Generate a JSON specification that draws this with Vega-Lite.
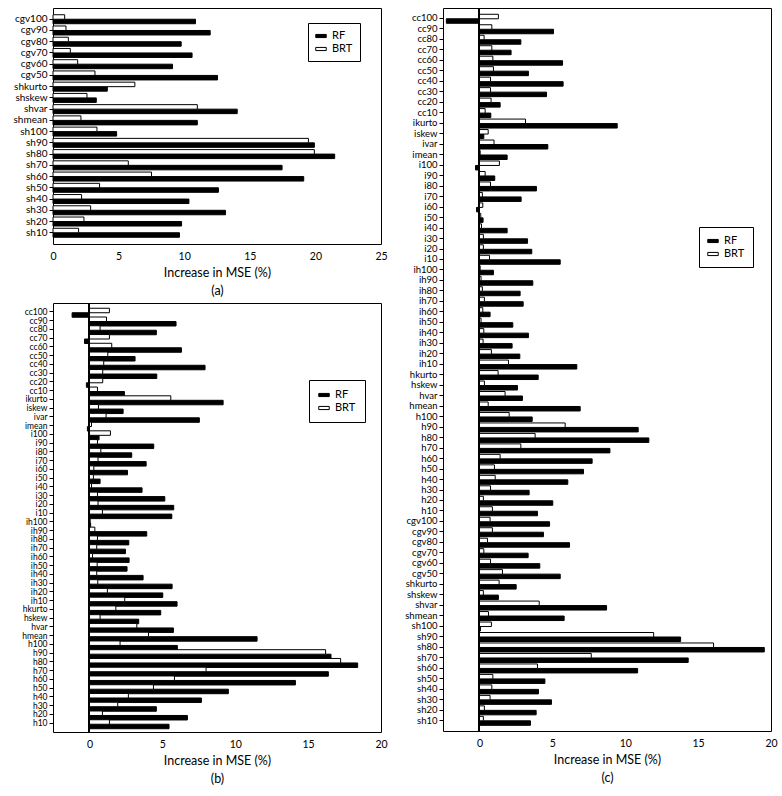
{
  "$schema": "https://vega.github.io/schema/vega-lite/v6.json",
  "padding": {"left": 12, "top": 7, "right": 0, "bottom": 0},
  "background": "white",
  "config": {
    "font": "Lato",
    "view": {"stroke": "black", "strokeWidth": 1},
    "axis": {"labelFont": "Lato", "titleFont": "Lato", "labelColor": "black", "titleColor": "black", "tickColor": "black", "domainColor": "black", "grid": false, "titleFontWeight": "normal"},
    "axisY": {"title": null, "labelFontSize": 10, "tickSize": 4, "labelPadding": 2, "domain": false},
    "axisX": {"labelFontSize": 10.5, "titleFontSize": 12.5, "tickSize": 0, "labelPadding": 7, "titlePadding": 5, "titleLineHeight": 18, "domain": false, "labelFlush": false},
    "legend": {"title": null, "orient": "none", "symbolType": "M-1,-0.3H1V0.3H-1Z", "symbolSize": 110, "symbolStrokeColor": "black", "symbolStrokeWidth": 1, "strokeColor": "black", "fillColor": "white", "padding": 7, "labelFontSize": 11, "labelFont": "Lato", "labelColor": "black", "rowPadding": 2, "labelOffset": 5}
  },
  "datasets": {
    "a": [
      {"v":"cgv100","m":"RF","x":10.86},{"v":"cgv100","m":"BRT","x":0.89},
      {"v":"cgv90","m":"RF","x":11.98},{"v":"cgv90","m":"BRT","x":0.99},
      {"v":"cgv80","m":"RF","x":9.77},{"v":"cgv80","m":"BRT","x":1.17},
      {"v":"cgv70","m":"RF","x":10.6},{"v":"cgv70","m":"BRT","x":1.32},
      {"v":"cgv60","m":"RF","x":9.11},{"v":"cgv60","m":"BRT","x":1.88},
      {"v":"cgv50","m":"RF","x":12.54},{"v":"cgv50","m":"BRT","x":3.2},
      {"v":"shkurto","m":"RF","x":4.14},{"v":"shkurto","m":"BRT","x":6.24},
      {"v":"shskew","m":"RF","x":3.3},{"v":"shskew","m":"BRT","x":2.59},
      {"v":"shvar","m":"RF","x":14.04},{"v":"shvar","m":"BRT","x":11.0},
      {"v":"shmean","m":"RF","x":11.0},{"v":"shmean","m":"BRT","x":2.13},
      {"v":"sh100","m":"RF","x":4.85},{"v":"sh100","m":"BRT","x":3.35},
      {"v":"sh90","m":"RF","x":19.92},{"v":"sh90","m":"BRT","x":19.47},
      {"v":"sh80","m":"RF","x":21.47},{"v":"sh80","m":"BRT","x":19.92},
      {"v":"sh70","m":"RF","x":17.46},{"v":"sh70","m":"BRT","x":5.74},
      {"v":"sh60","m":"RF","x":19.11},{"v":"sh60","m":"BRT","x":7.51},
      {"v":"sh50","m":"RF","x":12.61},{"v":"sh50","m":"BRT","x":3.55},
      {"v":"sh40","m":"RF","x":10.36},{"v":"sh40","m":"BRT","x":2.18},
      {"v":"sh30","m":"RF","x":13.15},{"v":"sh30","m":"BRT","x":2.87},
      {"v":"sh20","m":"RF","x":9.8},{"v":"sh20","m":"BRT","x":2.36},
      {"v":"sh10","m":"RF","x":9.64},{"v":"sh10","m":"BRT","x":1.95}
    ],
    "b": [
      {"v":"cc100","m":"RF","x":-1.19},{"v":"cc100","m":"BRT","x":1.37},
      {"v":"cc90","m":"RF","x":5.94},{"v":"cc90","m":"BRT","x":1.17},
      {"v":"cc80","m":"RF","x":4.59},{"v":"cc80","m":"BRT","x":0.73},
      {"v":"cc70","m":"RF","x":-0.34},{"v":"cc70","m":"BRT","x":1.37},
      {"v":"cc60","m":"RF","x":6.31},{"v":"cc60","m":"BRT","x":1.53},
      {"v":"cc50","m":"RF","x":3.13},{"v":"cc50","m":"BRT","x":1.26},
      {"v":"cc40","m":"RF","x":7.93},{"v":"cc40","m":"BRT","x":0.98},
      {"v":"cc30","m":"RF","x":4.62},{"v":"cc30","m":"BRT","x":0.91},
      {"v":"cc20","m":"RF","x":-0.21},{"v":"cc20","m":"BRT","x":0.91},
      {"v":"cc10","m":"RF","x":2.4},{"v":"cc10","m":"BRT","x":0.55},
      {"v":"ikurto","m":"RF","x":9.17},{"v":"ikurto","m":"BRT","x":5.58},
      {"v":"iskew","m":"RF","x":2.31},{"v":"iskew","m":"BRT","x":0.62},
      {"v":"ivar","m":"RF","x":7.54},{"v":"ivar","m":"BRT","x":1.14},
      {"v":"imean","m":"RF","x":-0.14},{"v":"imean","m":"BRT","x":0.14},
      {"v":"i100","m":"RF","x":0.66},{"v":"i100","m":"BRT","x":1.44},
      {"v":"i90","m":"RF","x":4.41},{"v":"i90","m":"BRT","x":0.55},
      {"v":"i80","m":"RF","x":2.9},{"v":"i80","m":"BRT","x":0.78},
      {"v":"i70","m":"RF","x":3.89},{"v":"i70","m":"BRT","x":0.59},
      {"v":"i60","m":"RF","x":2.61},{"v":"i60","m":"BRT","x":0.3},
      {"v":"i50","m":"RF","x":0.73},{"v":"i50","m":"BRT","x":0.27},
      {"v":"i40","m":"RF","x":3.61},{"v":"i40","m":"BRT","x":0.14},
      {"v":"i30","m":"RF","x":5.17},{"v":"i30","m":"BRT","x":0.55},
      {"v":"i20","m":"RF","x":5.78},{"v":"i20","m":"BRT","x":0.59},
      {"v":"i10","m":"RF","x":5.65},{"v":"i10","m":"BRT","x":0.89},
      {"v":"ih100","m":"RF","x":0.08},{"v":"ih100","m":"BRT","x":0.05},
      {"v":"ih90","m":"RF","x":3.93},{"v":"ih90","m":"BRT","x":0.37},
      {"v":"ih80","m":"RF","x":2.7},{"v":"ih80","m":"BRT","x":0.55},
      {"v":"ih70","m":"RF","x":2.47},{"v":"ih70","m":"BRT","x":0.5},
      {"v":"ih60","m":"RF","x":2.72},{"v":"ih60","m":"BRT","x":0.21},
      {"v":"ih50","m":"RF","x":2.58},{"v":"ih50","m":"BRT","x":0.53},
      {"v":"ih40","m":"RF","x":3.68},{"v":"ih40","m":"BRT","x":0.5},
      {"v":"ih30","m":"RF","x":5.67},{"v":"ih30","m":"BRT","x":0.57},
      {"v":"ih20","m":"RF","x":5.03},{"v":"ih20","m":"BRT","x":1.23},
      {"v":"ih10","m":"RF","x":6.01},{"v":"ih10","m":"BRT","x":2.42},
      {"v":"hkurto","m":"RF","x":4.89},{"v":"hkurto","m":"BRT","x":1.81},
      {"v":"hskew","m":"RF","x":3.38},{"v":"hskew","m":"BRT","x":0.73},
      {"v":"hvar","m":"RF","x":5.76},{"v":"hvar","m":"BRT","x":3.25},
      {"v":"hmean","m":"RF","x":11.5},{"v":"hmean","m":"BRT","x":4.05},
      {"v":"h100","m":"RF","x":6.03},{"v":"h100","m":"BRT","x":2.1},
      {"v":"h90","m":"RF","x":16.57},{"v":"h90","m":"BRT","x":16.2},
      {"v":"h80","m":"RF","x":18.4},{"v":"h80","m":"BRT","x":17.23},
      {"v":"h70","m":"RF","x":16.39},{"v":"h70","m":"BRT","x":8.0},
      {"v":"h60","m":"RF","x":14.13},{"v":"h60","m":"BRT","x":5.83},
      {"v":"h50","m":"RF","x":9.53},{"v":"h50","m":"BRT","x":4.39},
      {"v":"h40","m":"RF","x":7.68},{"v":"h40","m":"BRT","x":2.67},
      {"v":"h30","m":"RF","x":4.59},{"v":"h30","m":"BRT","x":1.94},
      {"v":"h20","m":"RF","x":6.72},{"v":"h20","m":"BRT","x":0.89},
      {"v":"h10","m":"RF","x":5.46},{"v":"h10","m":"BRT","x":1.37}
    ],
    "c": [
      {"v":"cc100","m":"RF","x":-2.27},{"v":"cc100","m":"BRT","x":1.3},
      {"v":"cc90","m":"RF","x":5.08},{"v":"cc90","m":"BRT","x":0.85},
      {"v":"cc80","m":"RF","x":2.84},{"v":"cc80","m":"BRT","x":0.32},
      {"v":"cc70","m":"RF","x":2.17},{"v":"cc70","m":"BRT","x":0.85},
      {"v":"cc60","m":"RF","x":5.7},{"v":"cc60","m":"BRT","x":0.92},
      {"v":"cc50","m":"RF","x":3.36},{"v":"cc50","m":"BRT","x":0.96},
      {"v":"cc40","m":"RF","x":5.74},{"v":"cc40","m":"BRT","x":0.76},
      {"v":"cc30","m":"RF","x":4.6},{"v":"cc30","m":"BRT","x":0.76},
      {"v":"cc20","m":"RF","x":1.42},{"v":"cc20","m":"BRT","x":0.8},
      {"v":"cc10","m":"RF","x":0.78},{"v":"cc10","m":"BRT","x":0.39},
      {"v":"ikurto","m":"RF","x":9.45},{"v":"ikurto","m":"BRT","x":3.16},
      {"v":"iskew","m":"RF","x":0.3},{"v":"iskew","m":"BRT","x":0.6},
      {"v":"ivar","m":"RF","x":4.69},{"v":"ivar","m":"BRT","x":1.0},
      {"v":"imean","m":"RF","x":1.9},{"v":"imean","m":"BRT","x":0.05},
      {"v":"i100","m":"RF","x":-0.27},{"v":"i100","m":"BRT","x":1.37},
      {"v":"i90","m":"RF","x":1.05},{"v":"i90","m":"BRT","x":0.39},
      {"v":"i80","m":"RF","x":3.91},{"v":"i80","m":"BRT","x":0.76},
      {"v":"i70","m":"RF","x":2.86},{"v":"i70","m":"BRT","x":0.2},
      {"v":"i60","m":"RF","x":-0.2},{"v":"i60","m":"BRT","x":0.23},
      {"v":"i50","m":"RF","x":0.25},{"v":"i50","m":"BRT","x":0.09},
      {"v":"i40","m":"RF","x":1.9},{"v":"i40","m":"BRT","x":0.14},
      {"v":"i30","m":"RF","x":3.3},{"v":"i30","m":"BRT","x":0.27},
      {"v":"i20","m":"RF","x":3.59},{"v":"i20","m":"BRT","x":0.27},
      {"v":"i10","m":"RF","x":5.54},{"v":"i10","m":"BRT","x":0.69},
      {"v":"ih100","m":"RF","x":0.96},{"v":"ih100","m":"BRT","x":0.05},
      {"v":"ih90","m":"RF","x":3.66},{"v":"ih90","m":"BRT","x":0.11},
      {"v":"ih80","m":"RF","x":2.79},{"v":"ih80","m":"BRT","x":0.2},
      {"v":"ih70","m":"RF","x":3.0},{"v":"ih70","m":"BRT","x":0.34},
      {"v":"ih60","m":"RF","x":0.73},{"v":"ih60","m":"BRT","x":0.23},
      {"v":"ih50","m":"RF","x":2.29},{"v":"ih50","m":"BRT","x":0.11},
      {"v":"ih40","m":"RF","x":3.36},{"v":"ih40","m":"BRT","x":0.3},
      {"v":"ih30","m":"RF","x":2.24},{"v":"ih30","m":"BRT","x":0.25},
      {"v":"ih20","m":"RF","x":2.77},{"v":"ih20","m":"BRT","x":0.82},
      {"v":"ih10","m":"RF","x":6.68},{"v":"ih10","m":"BRT","x":1.99},
      {"v":"hkurto","m":"RF","x":4.03},{"v":"hkurto","m":"BRT","x":1.28},
      {"v":"hskew","m":"RF","x":2.61},{"v":"hskew","m":"BRT","x":0.34},
      {"v":"hvar","m":"RF","x":2.95},{"v":"hvar","m":"BRT","x":1.76},
      {"v":"hmean","m":"RF","x":6.91},{"v":"hmean","m":"BRT","x":0.6},
      {"v":"h100","m":"RF","x":3.62},{"v":"h100","m":"BRT","x":2.04},
      {"v":"h90","m":"RF","x":10.89},{"v":"h90","m":"BRT","x":5.88},
      {"v":"h80","m":"RF","x":11.62},{"v":"h80","m":"BRT","x":3.82},
      {"v":"h70","m":"RF","x":8.95},{"v":"h70","m":"BRT","x":2.84},
      {"v":"h60","m":"RF","x":7.73},{"v":"h60","m":"BRT","x":1.42},
      {"v":"h50","m":"RF","x":7.14},{"v":"h50","m":"BRT","x":1.03},
      {"v":"h40","m":"RF","x":6.06},{"v":"h40","m":"BRT","x":1.08},
      {"v":"h30","m":"RF","x":3.41},{"v":"h30","m":"BRT","x":0.76},
      {"v":"h20","m":"RF","x":5.03},{"v":"h20","m":"BRT","x":0.27},
      {"v":"h10","m":"RF","x":3.98},{"v":"h10","m":"BRT","x":0.89},
      {"v":"cgv100","m":"RF","x":4.81},{"v":"cgv100","m":"BRT","x":0.73},
      {"v":"cgv90","m":"RF","x":4.39},{"v":"cgv90","m":"BRT","x":0.89},
      {"v":"cgv80","m":"RF","x":6.18},{"v":"cgv80","m":"BRT","x":0.55},
      {"v":"cgv70","m":"RF","x":3.34},{"v":"cgv70","m":"BRT","x":0.3},
      {"v":"cgv60","m":"RF","x":4.14},{"v":"cgv60","m":"BRT","x":0.76},
      {"v":"cgv50","m":"RF","x":5.54},{"v":"cgv50","m":"BRT","x":1.58},
      {"v":"shkurto","m":"RF","x":2.52},{"v":"shkurto","m":"BRT","x":1.35},
      {"v":"shskew","m":"RF","x":1.3},{"v":"shskew","m":"BRT","x":0.27},
      {"v":"shvar","m":"RF","x":8.72},{"v":"shvar","m":"BRT","x":4.1},
      {"v":"shmean","m":"RF","x":5.81},{"v":"shmean","m":"BRT","x":0.62},
      {"v":"sh100","m":"RF","x":0.07},{"v":"sh100","m":"BRT","x":0.82},
      {"v":"sh90","m":"RF","x":13.8},{"v":"sh90","m":"BRT","x":11.95},
      {"v":"sh80","m":"RF","x":19.54},{"v":"sh80","m":"BRT","x":16.06},
      {"v":"sh70","m":"RF","x":14.32},{"v":"sh70","m":"BRT","x":7.67},
      {"v":"sh60","m":"RF","x":10.85},{"v":"sh60","m":"BRT","x":3.98},
      {"v":"sh50","m":"RF","x":4.49},{"v":"sh50","m":"BRT","x":0.92},
      {"v":"sh40","m":"RF","x":4.05},{"v":"sh40","m":"BRT","x":0.85},
      {"v":"sh30","m":"RF","x":4.94},{"v":"sh30","m":"BRT","x":0.73},
      {"v":"sh20","m":"RF","x":3.89},{"v":"sh20","m":"BRT","x":0.34},
      {"v":"sh10","m":"RF","x":3.5},{"v":"sh10","m":"BRT","x":0.27}
    ]
  },
  "spacing": 16,
  "resolve": {"scale": {"color": "independent"}, "legend": {"color": "independent"}},
  "hconcat": [
    {
      "spacing": 4,
      "resolve": {"scale": {"color": "independent"}, "legend": {"color": "independent"}},
      "vconcat": [
        {
          "width": 328, "height": 236,
          "data": {"name": "a"},
          "mark": {"type": "bar", "stroke": "black", "strokeWidth": 1},
          "encoding": {
            "y": {"field": "v", "type": "nominal", "sort": null, "scale": {"paddingInner": 0.2, "paddingOuter": 0.6}},
            "yOffset": {"field": "m", "type": "nominal", "sort": ["BRT", "RF"]},
            "x": {"field": "x", "type": "quantitative", "scale": {"domain": [0, 25], "nice": false}, "axis": {"values": [0, 5, 10, 15, 20, 25], "title": ["Increase in MSE (%)", "(a)"]}},
            "color": {"field": "m", "type": "nominal", "scale": {"domain": ["RF", "BRT"], "range": ["black", "white"]}, "legend": {"legendX": 255, "legendY": 15}}
          }
        },
        {
          "width": 328, "height": 429,
          "data": {"name": "b"},
          "layer": [
            {
              "mark": {"type": "bar", "stroke": "black", "strokeWidth": 1},
              "encoding": {
                "y": {"field": "v", "type": "nominal", "sort": null, "scale": {"paddingInner": 0.2, "paddingOuter": 0.6}, "axis": {"labelFontSize": 8.5}},
                "yOffset": {"field": "m", "type": "nominal", "sort": ["BRT", "RF"]},
                "x": {"field": "x", "type": "quantitative", "scale": {"domain": [-2.5, 20], "nice": false}, "axis": {"values": [0, 5, 10, 15, 20], "title": ["Increase in MSE (%)", "(b)"]}},
                "color": {"field": "m", "type": "nominal", "scale": {"domain": ["RF", "BRT"], "range": ["black", "white"]}, "legend": {"legendX": 256, "legendY": 77, "padding": 9}}
              }
            },
            {
              "mark": {"type": "rule", "color": "black", "strokeWidth": 1},
              "encoding": {"x": {"datum": 0}}
            }
          ]
        }
      ]
    },
    {
      "width": 328, "height": 723,
      "data": {"name": "c"},
      "layer": [
        {
          "mark": {"type": "bar", "stroke": "black", "strokeWidth": 1},
          "encoding": {
            "y": {"field": "v", "type": "nominal", "sort": null, "scale": {"paddingInner": 0.2, "paddingOuter": 0.6}, "axis": {"labelFontSize": 9.5}},
            "yOffset": {"field": "m", "type": "nominal", "sort": ["BRT", "RF"]},
            "x": {"field": "x", "type": "quantitative", "scale": {"domain": [-2.5, 20], "nice": false}, "axis": {"values": [0, 5, 10, 15, 20], "title": ["Increase in MSE (%)", "(c)"]}},
            "color": {"field": "m", "type": "nominal", "scale": {"domain": ["RF", "BRT"], "range": ["black", "white"]}, "legend": {"legendX": 256, "legendY": 219, "padding": 8}}
          }
        },
        {
          "mark": {"type": "rule", "color": "black", "strokeWidth": 1},
          "encoding": {"x": {"datum": 0}}
        }
      ]
    }
  ]
}
